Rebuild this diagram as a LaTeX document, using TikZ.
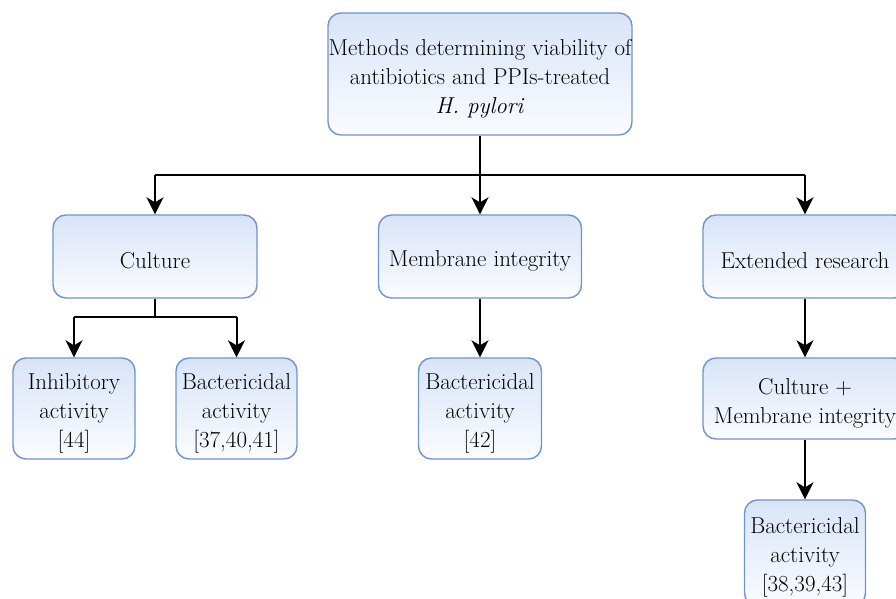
\documentclass[tikz,border=0pt]{standalone}
\usetikzlibrary{arrows.meta}
\definecolor{boxline}{HTML}{6F93CF}
\definecolor{boxtop}{HTML}{D8E4F7}
\definecolor{boxbot}{HTML}{FAFCFF}
% taller first line, so the text sits a little low in its box
\newcommand\lowstrut{\rule{0pt}{25pt}}
\tikzset{
  box/.style={draw=boxline, line width=1.4pt, rounded corners=13pt,
    top color=boxtop, bottom color=boxbot, align=center,
    inner sep=0pt, font=\fontsize{23}{29}\selectfont},
  link/.style={line width=2pt, -{Stealth[length=17pt, width=17pt, inset=5pt]}},
  plain/.style={line width=2pt}
}
\begin{document}
\begin{tikzpicture}[x=1pt, y=-1pt]
\useasboundingbox (0,0) rectangle (896,599);
\begin{scope}
\clip (0,0) rectangle (896,599);
% root
\node[box, minimum width=304pt, minimum height=122pt] (root) at (480,74)
  {\lowstrut Methods determining viability of\\antibiotics and PPIs-treated\\\textit{H. pylori}};
% second level
\node[box, minimum width=204pt, minimum height=83pt] (cult) at (155,256.5) {\lowstrut Culture};
\node[box, minimum width=203pt, minimum height=83pt] (memb) at (480,256.5) {\lowstrut Membrane integrity};
\node[box, minimum width=204pt, minimum height=83pt] (ext) at (805,256.5) {\lowstrut Extended research};
% third level
\node[box, minimum width=122pt, minimum height=101pt] (inh) at (74,408.5) {\lowstrut Inhibitory\\activity\\{[44]}};
\node[box, minimum width=121pt, minimum height=101pt] (bac1) at (236.5,408.5) {\lowstrut Bactericidal\\activity\\{[37,40,41]}};
\node[box, minimum width=123pt, minimum height=101pt] (bac2) at (480,408.5) {\lowstrut Bactericidal\\activity\\{[42]}};
\node[box, minimum width=204pt, minimum height=81pt] (cm) at (805,398.5) {\lowstrut Culture +\\Membrane integrity};
\node[box, minimum width=121pt, minimum height=106pt] (bac3) at (805,553) {\lowstrut Bactericidal\\activity\\{[38,39,43]}};
% connectors
\coordinate (j1) at (480,175);
\coordinate (j2) at (155,317);
\draw[plain] (root.south) -- (j1);
\draw[plain] (cult.north |- j1) -- (ext.north |- j1);
\draw[link] (j1 -| cult.north) -- (cult.north);
\draw[link] (j1) -- (memb.north);
\draw[link] (j1 -| ext.north) -- (ext.north);
\draw[plain] (cult.south) -- (j2);
\draw[plain] (j2 -| inh.north) -- (j2 -| bac1.north);
\draw[link] (j2 -| inh.north) -- (inh.north);
\draw[link] (j2 -| bac1.north) -- (bac1.north);
\draw[link] (memb.south) -- (bac2.north);
\draw[link] (ext.south) -- (cm.north);
\draw[link] (cm.south -| bac3.north) -- (bac3.north);
\end{scope}
\end{tikzpicture}
\end{document}
